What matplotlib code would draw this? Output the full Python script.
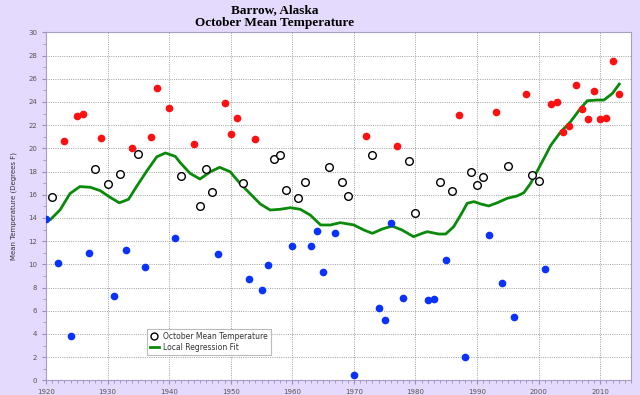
import matplotlib
matplotlib.use("Agg")
import matplotlib.pyplot as plt
from matplotlib.ticker import MultipleLocator
from matplotlib.lines import Line2D

# warm years (red), cold years (blue), others (open circles)
warm_years = [1923, 1925, 1926, 1929, 1934, 1937, 1938, 1940, 1944, 1949, 1950, 1951,
              1954, 1972, 1977, 1987, 1993, 1998, 2002, 2003, 2004, 2005, 2006, 2007,
              2008, 2009, 2010, 2011, 2012, 2013]
warm_temps = [20.6, 22.8, 23.0, 20.9, 20.0, 21.0, 25.2, 23.5, 20.4, 23.9, 21.2, 22.6,
              20.8, 21.1, 20.2, 22.9, 23.1, 24.7, 23.8, 24.0, 21.4, 21.9, 25.5, 23.4,
              22.5, 24.9, 22.5, 22.6, 27.5, 24.7]

cold_years = [1920, 1922, 1924, 1927, 1931, 1933, 1936, 1941, 1948, 1953, 1955, 1956,
              1960, 1963, 1964, 1965, 1967, 1970, 1974, 1975, 1976, 1978, 1982, 1983,
              1985, 1988, 1992, 1994, 1996, 2001]
cold_temps = [13.9, 10.1, 3.8, 11.0, 7.3, 11.2, 9.8, 12.3, 10.9, 8.7, 7.8, 9.9,
              11.6, 11.6, 12.9, 9.3, 12.7, 0.5, 6.2, 5.2, 13.6, 7.1, 6.9, 7.0,
              10.4, 2.0, 12.5, 8.4, 5.5, 9.6]

mid_years = [1921, 1928, 1930, 1932, 1935, 1942, 1945, 1946, 1947, 1952, 1957, 1958,
             1959, 1961, 1962, 1966, 1968, 1969, 1973, 1979, 1980, 1984, 1986, 1989,
             1990, 1991, 1995, 1999, 2000]
mid_temps = [15.8, 18.2, 16.9, 17.8, 19.5, 17.6, 15.0, 18.2, 16.2, 17.0, 19.1, 19.4,
             16.4, 15.7, 17.1, 18.4, 17.1, 15.9, 19.4, 18.9, 14.4, 17.1, 16.3, 18.0,
             16.8, 17.5, 18.5, 17.7, 17.2]

# local regression curve
fit_years = [1920.0, 1920.7, 1922.3, 1923.9, 1925.5, 1927.2, 1928.8, 1930.4, 1931.9,
             1933.4, 1934.7, 1936.4, 1938.0, 1939.4, 1941.0, 1941.8, 1943.4, 1945.0,
             1946.7, 1948.2, 1949.9, 1951.5, 1953.2, 1954.8, 1956.4, 1958.0, 1959.7,
             1961.3, 1962.9, 1964.6, 1966.2, 1967.8, 1970.0, 1971.6, 1973.0, 1974.6,
             1976.2, 1977.8, 1979.7, 1981.1, 1981.9, 1983.8, 1984.9, 1986.2, 1987.4,
             1988.4, 1989.5, 1990.6, 1991.9, 1993.3, 1994.9, 1996.5, 1997.6, 1998.7,
             2000.3, 2002.0, 2003.6, 2005.2, 2006.6, 2007.9, 2009.5, 2010.6, 2012.0,
             2013.1]
fit_temps = [13.9, 13.85, 14.7, 16.1, 16.7, 16.64, 16.35, 15.78, 15.3,
             15.6, 16.7, 18.07, 19.27, 19.6, 19.3, 18.76, 17.84, 17.35,
             17.98, 18.36, 17.98, 16.98, 16.06, 15.2, 14.68, 14.74, 14.88,
             14.74, 14.25, 13.39, 13.39, 13.59, 13.39, 12.96, 12.67, 13.04,
             13.3, 12.96, 12.38, 12.67, 12.81, 12.61, 12.61, 13.24, 14.3,
             15.26, 15.4, 15.2, 15.03, 15.31, 15.69, 15.89, 16.17, 16.98,
             18.56, 20.28, 21.43, 22.3, 23.3, 24.1, 24.16, 24.16, 24.74,
             25.54]

bg = "#e4dafd"
grey = "#555555"

fig = plt.figure(figsize=(6.4, 3.95), dpi=100, facecolor=bg)
ax = fig.add_axes([46 / 640, 1 - 380.3 / 395, 585 / 640, 348 / 395])
ax.set_facecolor("white")

ax.grid(True, which="major", linestyle=(0, (1, 1.3)), color="#a0a0a0", linewidth=0.7)
ax.set_axisbelow(True)

ax.plot(fit_years, fit_temps, color="#0a8a0a", linewidth=2, zorder=2,
        solid_joinstyle="round")
ax.plot(warm_years, warm_temps, "o", color="#ff1010", markersize=4.5, zorder=3)
ax.plot(cold_years, cold_temps, "o", color="#0a32ff", markersize=4.5, zorder=3)
ax.plot(mid_years, mid_temps, "o", markerfacecolor="white", markeredgecolor="black",
        markeredgewidth=1, markersize=5.5, zorder=3)

ax.set_xlim(1920, 2015)
ax.set_ylim(0, 30)
ax.xaxis.set_major_locator(MultipleLocator(10))
ax.xaxis.set_minor_locator(MultipleLocator(1))
ax.yaxis.set_major_locator(MultipleLocator(2))
ax.yaxis.set_minor_locator(MultipleLocator(1))
ax.tick_params(which="both", direction="out", colors="#9a8fb8", labelcolor=grey, labelsize=5)
ax.tick_params(which="major", length=3)
ax.tick_params(which="minor", length=2)
for s in ax.spines.values():
    s.set_color("#a89cc8")

ax.set_ylabel("Mean Temperature (Degrees F)", fontsize=5, color="#333333", labelpad=8)

fig.text(275 / 640, 1 - 10 / 395, "Barrow, Alaska", ha="center", va="center",
         family="Liberation Serif", fontweight="bold", fontsize=9.5)
fig.text(275 / 640, 1 - 23 / 395, "October Mean Temperature", ha="center", va="center",
         family="Liberation Serif", fontweight="bold", fontsize=9.5)

handles = [
    Line2D([], [], linestyle="none", marker="o", markerfacecolor="white",
           markeredgecolor="black", markeredgewidth=1, markersize=5),
    Line2D([], [], color="#0a8a0a", linewidth=2),
]
leg = ax.legend(handles, ["October Mean Temperature", "Local Regression Fit"],
                loc="upper left", bbox_to_anchor=(143 / 640, 1 - 325 / 395),
                bbox_transform=fig.transFigure, fontsize=5.5, frameon=True,
                fancybox=False, handlelength=1.2, handletextpad=0.5,
                borderpad=0.4, labelspacing=0.3)
leg.get_frame().set_edgecolor("#aaaaaa")
leg.get_frame().set_linewidth(0.8)
for t in leg.get_texts():
    t.set_color("#333333")

fig.savefig("out.png", dpi=100, facecolor=bg)
